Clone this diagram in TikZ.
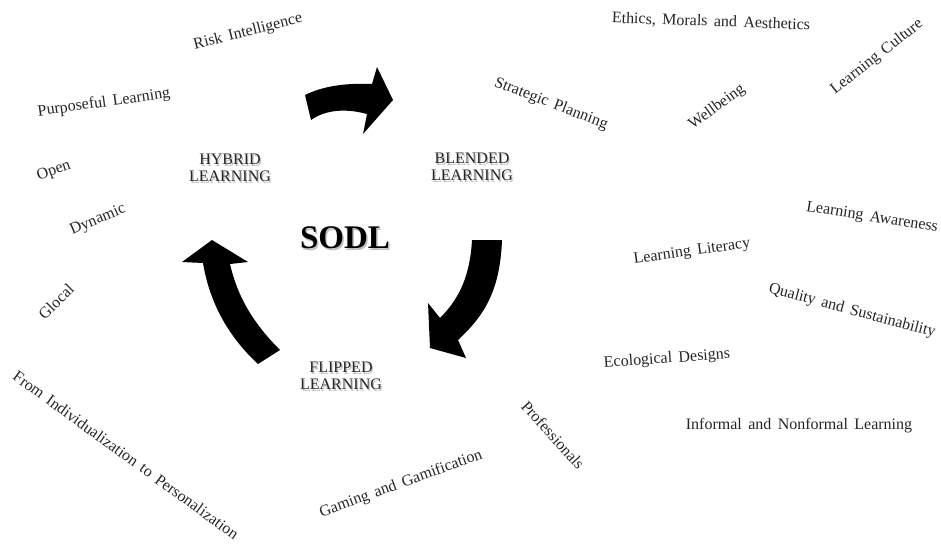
\documentclass[tikz,border=0pt]{standalone}
\usepackage{fontspec}
\setmainfont[WordSpace=1.6]{Liberation Serif}
\begin{document}
\begin{tikzpicture}[x=1pt,y=-1pt,
  lbl/.style={font=\fontsize{16}{17}\selectfont, inner sep=0pt, text=black!85},
  cyc/.style={font=\fontsize{16}{17}\selectfont, align=center, inner sep=0pt, text=black!85},
  cycshadow/.style={cyc, text=black!25},
  blockarrow/.style={fill=black, draw=none}]
\useasboundingbox (0,0) rectangle (941,544);
\fill[white] (0,0) rectangle (941,544);

% cycle labels with soft shadow
\node[cycshadow] (hybrids) at (231.2,169.8) {HYBRID\\LEARNING};
\node[cyc] (hybrid) at (230,168) {HYBRID\\LEARNING};
\node[cycshadow] (blendeds) at (473.2,168.8) {BLENDED\\LEARNING};
\node[cyc] (blended) at (472,167) {BLENDED\\LEARNING};
\node[cycshadow] (flippeds) at (342.2,377.8) {FLIPPED\\LEARNING};
\node[cyc] (flipped) at (341,376) {FLIPPED\\LEARNING};
\node[font=\fontsize{33}{34}\selectfont\bfseries, inner sep=0pt, text=black!25] (sodls) at (346.5,239.5) {SODL};
\node[font=\fontsize{33}{34}\selectfont\bfseries, inner sep=0pt] (sodl) at (345,238) {SODL};

% block arrows
\path[blockarrow] (305,95) .. controls (325,85) and (350,83) .. (372,84)
  -- (377,67) -- (393,100) -- (363,134) -- (367,114)
  .. controls (345,108) and (325,110) .. (311,120) -- cycle;
\path[blockarrow] (472,240) .. controls (470,275) and (460,298) .. (440,318)
  -- (428,303) -- (430,348) -- (466,358) -- (458,340)
  .. controls (485,315) and (500,290) .. (502,240) -- cycle;
\path[blockarrow] (258,364) .. controls (230,338) and (210,305) .. (203,263)
  -- (182,262) -- (212,240) -- (248,262) -- (230,264)
  .. controls (237,295) and (252,322) .. (280,350) -- cycle;

% surrounding concepts
\node[lbl, rotate=14] (risk) at (248,32) {Risk Intelligence};
\node[lbl, rotate=8] (purpose) at (104,103) {Purposeful Learning};
\node[lbl, rotate=20] (open) at (54,171) {Open};
\node[lbl, rotate=23] (dynamic) at (98,220) {Dynamic};
\node[lbl, rotate=45] (glocal) at (56,302) {Glocal};
\node[lbl, rotate=-36] (from) at (126,455) {From Individualization to Personalization};
\node[lbl, rotate=20] (gaming) at (401,484) {Gaming and Gamification};
\node[lbl, rotate=-48] (prof) at (553,435) {Professionals};
\node[lbl, rotate=4] (eco) at (667,359) {Ecological Designs};
\node[lbl, rotate=8] (literacy) at (692,252) {Learning Literacy};
\node[lbl, rotate=-9] (aware) at (872,218) {Learning Awareness};
\node[lbl, rotate=-15] (quality) at (852,311) {Quality and Sustainability};
\node[lbl] (informal) at (799,426) {Informal and Nonformal Learning};
\node[lbl, rotate=-2] (ethics) at (711,22) {Ethics, Morals and Aesthetics};
\node[lbl, rotate=38] (culture) at (877,57) {Learning Culture};
\node[lbl, rotate=36] (well) at (717,107) {Wellbeing};
\node[lbl, rotate=-21] (strategic) at (551,104) {Strategic Planning};
\end{tikzpicture}
\end{document}
